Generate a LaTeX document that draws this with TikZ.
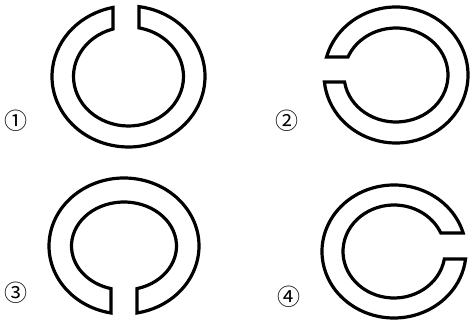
\documentclass[tikz,border=0pt]{standalone}
\usepackage{fontspec}
\newfontfamily\symf{Noto Sans CJK JP}
\usetikzlibrary{calc}
\tikzset{ringline/.style={draw=black,line width=3.2pt,line join=miter},
  numlabel/.style={inner sep=0pt,font=\symf\fontsize{23}{23}\selectfont}}
\begin{document}
\begin{tikzpicture}
\useasboundingbox (0pt,0pt) rectangle (470pt,323pt);
% ring 1: gap at top
\coordinate (c1) at (128.5pt,246.5pt);
\pgfmathsetmacro\aRo{acos(10.5/76.5)}
\pgfmathsetmacro\aLo{acos(-15.5/76.5)-360}
\pgfmathsetmacro\aLi{acos(-15.5/55)-360}
\pgfmathsetmacro\aRi{acos(10.5/55)}
\draw[ringline] (c1) ++(\aRo:76.5pt and 70.5pt)
  arc[start angle=\aRo,end angle=\aLo,x radius=76.5pt,y radius=70.5pt]
  -- ($(c1)+(\aLi:55pt and 49.5pt)$)
  arc[start angle=\aLi,end angle=\aRi,x radius=55pt,y radius=49.5pt] -- cycle;
% ring 2: gap at left
\coordinate (c2) at (396pt,248pt);
\pgfmathsetmacro\bUo{180-asin(18/68)}
\pgfmathsetmacro\bLo{-180-asin(-7/68)}
\pgfmathsetmacro\bLi{-180-asin(-7/47)}
\pgfmathsetmacro\bUi{180-asin(18/47)}
\draw[ringline] (c2) ++(\bUo:72pt and 68pt)
  arc[start angle=\bUo,end angle=\bLo,x radius=72pt,y radius=68pt]
  -- ($(c2)+(\bLi:52pt and 47pt)$)
  arc[start angle=\bLi,end angle=\bUi,x radius=52pt,y radius=47pt] -- cycle;
% ring 3: gap at bottom
\coordinate (c3) at (124pt,77pt);
\pgfmathsetmacro\cLo{360-acos(-13/75)}
\pgfmathsetmacro\cRo{-acos(13/75)}
\pgfmathsetmacro\cRi{-acos(13/52.5)}
\pgfmathsetmacro\cLi{360-acos(-13/52.5)}
\draw[ringline] (c3) ++(\cLo:75pt and 68pt)
  arc[start angle=\cLo,end angle=\cRo,x radius=75pt,y radius=68pt]
  -- ($(c3)+(\cRi:52.5pt and 44pt)$)
  arc[start angle=\cRi,end angle=\cLi,x radius=52.5pt,y radius=44pt] -- cycle;
% ring 4: gap at right
\coordinate (c4) at (394pt,71.5pt);
\pgfmathsetmacro\dUo{asin(18.5/66.5)}
\pgfmathsetmacro\dLo{360+asin(-7.5/66.5)}
\pgfmathsetmacro\dLi{360+asin(-7.5/46.5)}
\pgfmathsetmacro\dUi{asin(18.5/46.5)}
\draw[ringline] (c4) ++(\dUo:72pt and 66.5pt)
  arc[start angle=\dUo,end angle=\dLo,x radius=72pt,y radius=66.5pt]
  -- ($(c4)+(\dLi:51pt and 46.5pt)$)
  arc[start angle=\dLi,end angle=\dUi,x radius=51pt,y radius=46.5pt] -- cycle;
% labels
\node[numlabel] (n1) at (16pt,202pt) {①};
\node[numlabel] (n2) at (287pt,202pt) {②};
\node[numlabel] (n3) at (16pt,30.5pt) {③};
\node[numlabel] (n4) at (289pt,26pt) {④};
\end{tikzpicture}
\end{document}
